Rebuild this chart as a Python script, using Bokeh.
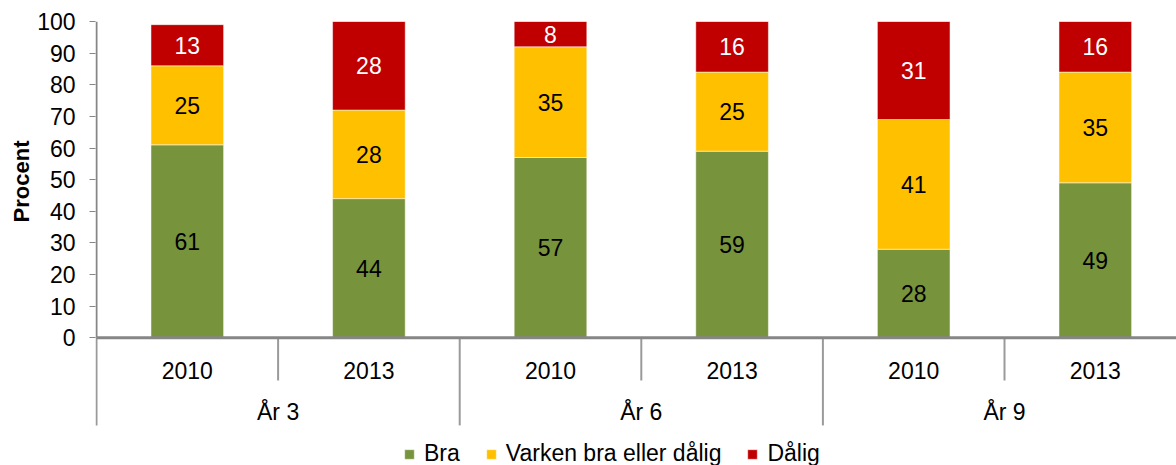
import math
from bokeh.plotting import figure
from bokeh.models import ColumnDataSource, Range1d, FixedTicker, Title, Legend, LegendItem
from bokeh.core.properties import value
from bokeh.embed import file_html
from bokeh.resources import INLINE

# ---- data ----
groups = ["År 3", "År 6", "År 9"]
years = ["2010", "2013"]
series_names = ["Bra", "Varken bra eller dålig", "Dålig"]
bra = [61, 44, 57, 59, 28, 49]
varken = [25, 28, 35, 25, 41, 35]
dalig = [13, 28, 8, 16, 31, 16]
y_ticks = list(range(0, 101, 10))
y_label = "Procent"

colors = ["#77933C", "#FFC000", "#C00000"]
label_colors = ["black", "black", "white"]
FONT = "Liberation Sans"
FS = "23px"

# ---- layout ----
W, H = 1176, 465
LEFT, TOP = 95, 21
slot_px = 181.6
px_per_unit = 3.163
frame_w = W - LEFT
frame_h = H - TOP
x_start = -1.0 / slot_px
y_start = 100 - frame_h / px_per_unit

n = len(bra)
xs = [i + 0.5 for i in range(n)]
cats = [y for g in groups for y in years]

src = ColumnDataSource(dict(x=xs, bra=bra, varken=varken, dalig=dalig))

p = figure(width=W, height=H, output_backend="svg", toolbar_location=None,
           x_range=Range1d(x_start, x_start + frame_w / slot_px),
           y_range=Range1d(y_start, 100),
           x_axis_location=None,
           min_border_left=LEFT, min_border_top=TOP,
           min_border_bottom=0, min_border_right=0)
p.outline_line_color = None
p.xgrid.grid_line_color = None
p.ygrid.grid_line_color = None

bars = p.vbar_stack(["bra", "varken", "dalig"], x="x", width=0.4, color=colors,
                    source=src, line_color="white", line_alpha=0.5, line_width=1)

# data labels
bottom = [0] * n
for vals, col in zip([bra, varken, dalig], label_colors):
    mids = [b + v / 2 for b, v in zip(bottom, vals)]
    p.text(x=xs, y=mids, text=[str(v) for v in vals], text_align="center",
           text_baseline="middle", text_font=value(FONT), text_font_size=FS,
           text_color=col)
    bottom = [b + v for b, v in zip(bottom, vals)]

# y axis
ax = p.yaxis[0]
ax.ticker = FixedTicker(ticks=y_ticks)
ax.axis_line_color = None
ax.major_tick_line_color = "#868686"
ax.major_tick_line_width = 1
ax.major_tick_out = 6
ax.major_tick_in = 0
ax.minor_tick_line_color = None
ax.major_label_text_font = FONT
ax.major_label_text_font_size = FS
ax.major_label_text_color = "black"
ax.major_label_standoff = 14

# category axis drawn in data space
long_sep = -27.7
short_sep = -13.5
p.segment(x0=[0], y0=[0], x1=[0], y1=[100], line_color="#868686", line_width=2)
gb = [2 * i for i in range(len(groups) + 1)]
p.segment(x0=gb, y0=[long_sep] * len(gb), x1=gb, y1=[0] * len(gb),
          line_color="#9a9a9a", line_width=2)
yb = [2 * i + 1 for i in range(len(groups))]
p.segment(x0=yb, y0=[short_sep] * len(yb), x1=yb, y1=[0] * len(yb),
          line_color="#9a9a9a", line_width=2)
p.segment(x0=[0], y0=[0], x1=[n], y1=[0], line_color="#868686", line_width=3)

p.text(x=xs, y=[-10.3] * n, text=cats, text_align="center", text_baseline="middle",
       text_font=value(FONT), text_font_size=FS, text_color="black")
p.text(x=[2 * i + 1 for i in range(len(groups))], y=[-23.6] * len(groups), text=groups,
       text_align="center", text_baseline="middle",
       text_font=value(FONT), text_font_size=FS, text_color="black")

p.add_layout(Title(text=y_label, align="right", offset=119, vertical_align="middle",
                   standoff=0, text_font=FONT, text_font_size="22px",
                   text_font_style="bold", text_color="black"), "left")

legend = Legend(items=[LegendItem(label=s, renderers=[r]) for s, r in zip(series_names, bars)],
                location=(308, -2), orientation="horizontal",
                glyph_width=12, glyph_height=12, label_standoff=9, spacing=25,
                padding=0, margin=0, border_line_color=None, background_fill_alpha=0,
                label_text_font=FONT, label_text_font_size=FS, label_text_color="black")
p.add_layout(legend)

open("out.html", "w").write(file_html(p, INLINE))
